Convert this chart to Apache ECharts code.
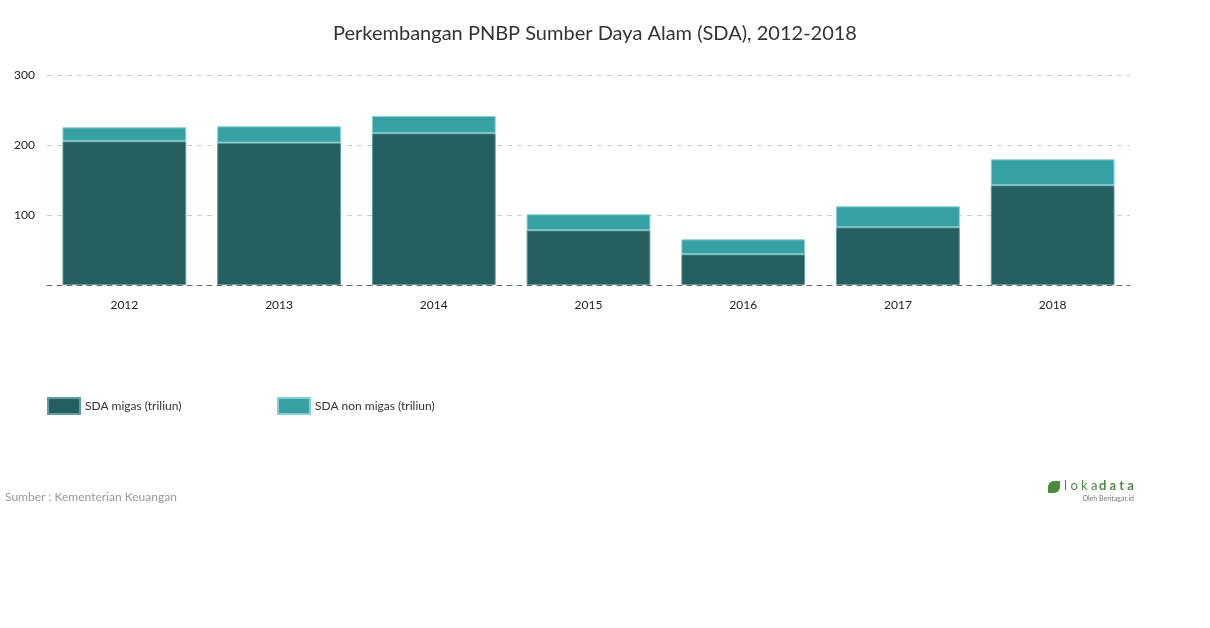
<!DOCTYPE html>
<html>
<head>
<meta charset="utf-8">
<script src="https://cdn.jsdelivr.net/npm/echarts@6/dist/echarts.min.js"></script>
<style>
  html, body { margin: 0; padding: 0; background: #fff; }
  #main { width: 1210px; height: 628px; }
</style>
</head>
<body>
<div id="main"></div>
<script>
const years = ['2012', '2013', '2014', '2015', '2016', '2017', '2018'];
const migas = [205.3, 203.3, 216.7, 78.1, 43.8, 82.4, 142.4];
const nonMigas = [20.0, 23.4, 24.7, 22.9, 21.4, 30.0, 37.1];
const yTicks = [0, 100, 200, 300];

const font = 'Lato, "Open Sans", sans-serif';
const chart = echarts.init(document.getElementById('main'));

chart.setOption({
    animation: false,
    textStyle: { fontFamily: font },
    title: {
        text: 'Perkembangan PNBP Sumber Daya Alam (SDA), 2012-2018',
        left: 590,
        textAlign: 'center',
        top: 19,
        textStyle: { fontSize: 20, fontWeight: 'normal', color: '#333', fontFamily: font }
    },
    legend: [
        {
            data: ['SDA migas (triliun)'],
            left: 42, top: 392,
            itemWidth: 32, itemHeight: 16, itemGap: 5,
            icon: 'rect',
            textStyle: { fontSize: 12, color: '#333', fontFamily: font }
        },
        {
            data: ['SDA non migas (triliun)'],
            left: 272, top: 392,
            itemWidth: 32, itemHeight: 16, itemGap: 5,
            icon: 'rect',
            textStyle: { fontSize: 12, color: '#333', fontFamily: font }
        }
    ],
    grid: { left: 47, right: 80, top: 75, height: 210, containLabel: false },
    xAxis: {
        type: 'category',
        data: years,
        axisLine: { show: true, lineStyle: { color: '#666', type: [5, 5] } },
        axisTick: { show: false },
        axisLabel: { color: '#222', fontSize: 12, margin: 14, fontFamily: font }
    },
    yAxis: {
        type: 'value',
        min: yTicks[0],
        max: yTicks[yTicks.length - 1],
        interval: 100,
        axisLine: { show: false },
        axisTick: { show: false },
        axisLabel: {
            color: '#222', fontSize: 12, margin: 33, align: 'left', fontFamily: font,
            formatter: v => (v === 0 ? '' : String(v))
        },
        splitLine: { lineStyle: { color: '#ccc', type: [5, 5] } }
    },
    series: [
        {
            name: 'SDA migas (triliun)',
            type: 'bar',
            stack: 'sda',
            data: migas,
            barCategoryGap: '20%',
            itemStyle: { color: '#255f60', borderColor: '#5e9c9d', borderWidth: 1 }
        },
        {
            name: 'SDA non migas (triliun)',
            type: 'bar',
            stack: 'sda',
            data: nonMigas,
            itemStyle: { color: '#36a1a5', borderColor: '#86cfd2', borderWidth: 1 }
        }
    ],
    graphic: [
        {
            type: 'text', left: 5, top: 491,
            style: { text: 'Sumber : Kementerian Keuangan', fill: '#999', fontSize: 12, fontFamily: font }
        },
        {
            type: 'rect', left: 1048, top: 481,
            shape: { width: 12, height: 12, r: [6, 1, 6, 1] },
            style: { fill: '#4c8a3f' }
        },
        {
            type: 'text', left: 1064, top: 479,
            style: { text: 'l o k a', fill: '#4c8a3f', fontSize: 13, fontFamily: font }
        },
        {
            type: 'text', left: 1099, top: 479,
            style: { text: 'd a t a', fill: '#4c8a3f', fontSize: 13, fontWeight: 'bold', fontFamily: font }
        },
        {
            type: 'text', right: 76, top: 495,
            style: { text: 'Oleh Beritagar.id', fill: '#777', fontSize: 7, fontFamily: font }
        }
    ]
});
</script>
</body>
</html>
